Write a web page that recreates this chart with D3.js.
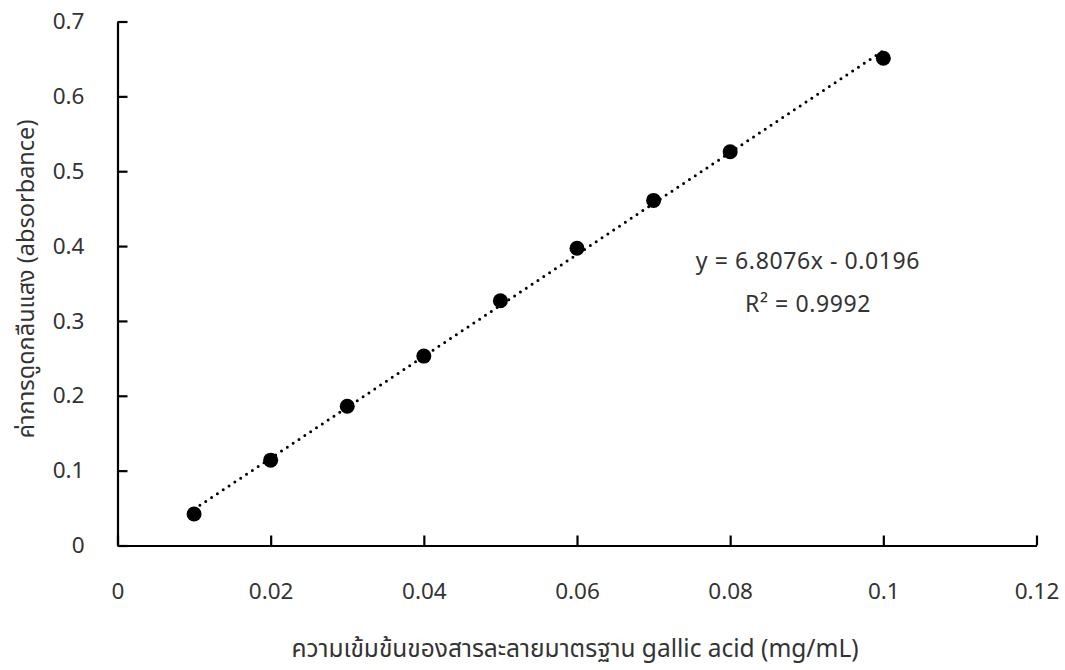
<!DOCTYPE html>
<html>
<head>
<meta charset="utf-8">
<script src="https://cdn.jsdelivr.net/npm/d3@7"></script>
<style>
html,body{margin:0;padding:0;background:#fff;}
svg text{font-family:"Noto Sans","Noto Sans Thai","Open Sans",sans-serif;fill:#333;}
</style>
</head>
<body>
<svg id="chart" width="1065" height="670"></svg>
<script>
const concentrations = [0.01, 0.02, 0.03, 0.04, 0.05, 0.06, 0.07, 0.08, 0.1];
const absorbances = [0.042, 0.114, 0.186, 0.253, 0.327, 0.397, 0.461, 0.526, 0.651];
const xTicks = [0, 0.02, 0.04, 0.06, 0.08, 0.1, 0.12];
const yTicks = [0, 0.1, 0.2, 0.3, 0.4, 0.5, 0.6, 0.7];
const slope = 6.8076, intercept = -0.0196;
const equationLines = ["y = 6.8076x - 0.0196", "R² = 0.9992"];
const xLabel = "ความเข้มข้นของสารละลายมาตรฐาน gallic acid (mg/mL)";
const yLabel = "ค่าการดูดกลืนแสง (absorbance)";

const svg = d3.select("#chart");
const x = d3.scaleLinear().domain([0, 0.12]).range([117.5, 1036.5]);
const y = d3.scaleLinear().domain([0, 0.7]).range([545.5, 21.5]);

const fmt = d => d === 0 ? "0" : String(+d.toFixed(2));

// y axis
const ya = svg.append("g").attr("transform", `translate(${x(0)},0)`)
  .call(d3.axisLeft(y).tickValues(yTicks).tickSizeInner(-10).tickSizeOuter(0).tickPadding(33).tickFormat(fmt));
ya.select(".domain").attr("stroke", "#000").attr("stroke-width", 2.2);
ya.selectAll(".tick line").attr("stroke", "#000").attr("stroke-width", 2.2);
ya.selectAll(".tick text").style("font-size", "22.5px").attr("fill", "#333");

// x axis
const xa = svg.append("g").attr("transform", `translate(0,${y(0)})`)
  .call(d3.axisBottom(x).tickValues(xTicks).tickSizeInner(-10).tickSizeOuter(0).tickPadding(38).tickFormat(fmt));
xa.select(".domain").attr("stroke", "#000").attr("stroke-width", 2.2);
xa.selectAll(".tick line").attr("stroke", "#000").attr("stroke-width", 2.2);
xa.selectAll(".tick text").style("font-size", "22.5px").attr("fill", "#333");

// trendline
const x0 = d3.min(concentrations), x1 = d3.max(concentrations);
svg.append("line")
  .attr("x1", x(x0)).attr("y1", y(slope * x0 + intercept))
  .attr("x2", x(x1)).attr("y2", y(slope * x1 + intercept))
  .attr("stroke", "#000").attr("stroke-width", 3)
  .attr("stroke-linecap", "round").attr("stroke-dasharray", "0 7");

// points
svg.append("g").selectAll("circle")
  .data(concentrations.map((c, i) => [c, absorbances[i]]))
  .join("circle")
  .attr("cx", d => x(d[0])).attr("cy", d => y(d[1])).attr("r", 7.5)
  .attr("fill", "#000");

// equation
svg.append("g").selectAll("text").data(equationLines).join("text")
  .attr("x", 808).attr("y", (d, i) => 269 + i * 43)
  .attr("text-anchor", "middle").style("font-size", "23px").style("letter-spacing", "0.6px")
  .text(d => d);

// axis titles
svg.append("text").attr("x", 575).attr("y", 657).attr("text-anchor", "middle")
  .style("font-size", "24.5px").text(xLabel);
svg.append("text").attr("transform", "translate(34,279) rotate(-90)")
  .attr("text-anchor", "middle").style("font-size", "23.5px").text(yLabel);
</script>
</body>
</html>
